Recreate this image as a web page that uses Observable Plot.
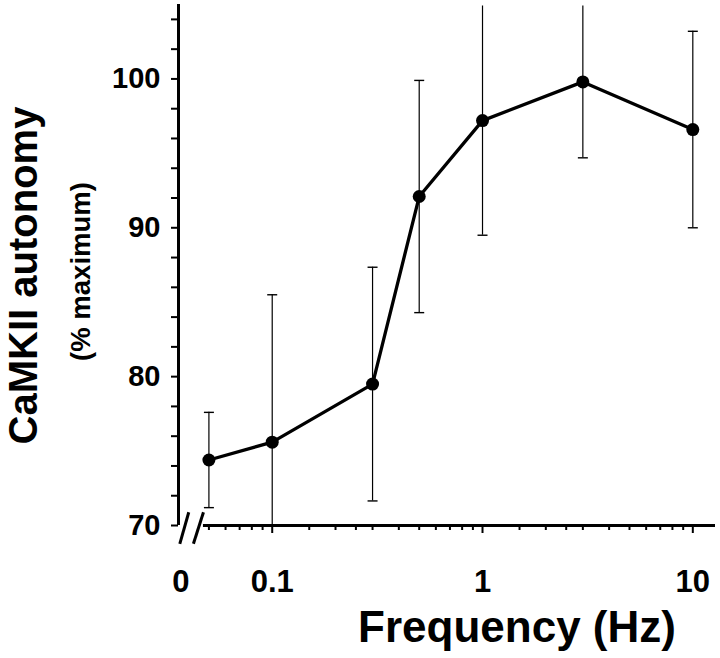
<!DOCTYPE html>
<html>
<head>
<meta charset="utf-8">
<script src="https://cdn.jsdelivr.net/npm/d3@7"></script>
<script src="https://cdn.jsdelivr.net/npm/@observablehq/plot@0.6"></script>
<style>
  html, body { margin: 0; padding: 0; background: #fff; }
  #chart svg { display: block; font-family: "Liberation Sans", Arial, sans-serif; }
  #chart svg text { font-weight: bold; fill: #000; }
</style>
</head>
<body>
<div id="chart"></div>
<script>
// ---- data ----
const frequencies = [0.05, 0.1, 0.3, 0.5, 1, 3, 10];          // Hz
const autonomy    = [74.4, 75.6, 79.5, 92.1, 97.2, 99.8, 96.6]; // % maximum
const errors      = [3.2, 9.9, 7.85, 7.8, 7.7, 5.1, 6.6];        // error bar half-lengths

const yTicks = d3.range(70, 105, 2);                 // 70..104
const yTickLabels = [70, 80, 90, 100];
const xMajorTicks = [0.1, 1, 10];
const xMinorTicks = [0.05, 0.06, 0.07, 0.08, 0.09,
                     0.15, 0.2, 0.25, 0.3, 0.4, 0.5, 0.6, 0.7, 0.8, 0.9,
                     1.5, 2, 2.5, 3, 4, 5, 6, 7, 8, 9];
const xLabelValues = [0.0368, 0.1, 1, 10];           // first one is the "0" at the axis break
const xLabelTexts  = ["0", "0.1", "1", "10"];

const xDomain = [0.03584, 12.82];
const yDomain = [70, 105];
const axisStart = 0.0471;                            // x-axis resumes after the break
const breakSlashes = [
  {x1: 0.03635, y1: 68.77, x2: 0.0401, y2: 70.89},
  {x1: 0.0422,  y1: 68.77, x2: 0.0471, y2: 70.89}
];

const rows = frequencies.map((f, i) => ({
  f, m: autonomy[i], lo: autonomy[i] - errors[i], hi: autonomy[i] + errors[i]
}));

const cap = { draw(ctx) { ctx.moveTo(-5, 0); ctx.lineTo(5, 0); } };

const plot = Plot.plot({
  width: 720,
  height: 658,
  marginLeft: 178,
  marginRight: 5,
  marginTop: 4,
  marginBottom: 133,
  x: {type: "log", domain: xDomain},
  y: {domain: yDomain},
  marks: [
    // axis lines
    Plot.ruleX([xDomain[0]], {x: d => d, y1: yDomain[0], y2: yDomain[1], strokeWidth: 3}),
    Plot.ruleY([yDomain[0]], {y: d => d, x1: axisStart, x2: xDomain[1], strokeWidth: 3}),
    Plot.link(breakSlashes, {x1: "x1", y1: "y1", x2: "x2", y2: "y2", strokeWidth: 3, stroke: "black"}),
    // y axis ticks + labels
    Plot.axisY({ticks: yTicks, tickSize: 7, tickPadding: 11, strokeWidth: 2,
      tickFormat: d => yTickLabels.includes(d) ? String(d) : "", fontSize: 29, label: null}),
    // x axis ticks
    Plot.axisX({ticks: xMinorTicks, tickSize: 5, strokeWidth: 2, tickFormat: () => "", label: null}),
    Plot.axisX({ticks: xMajorTicks, tickSize: 8, strokeWidth: 2, tickFormat: () => "", label: null}),
    Plot.text(xLabelValues, {x: d => d, text: (d, i) => xLabelTexts[i], frameAnchor: "bottom",
      textAnchor: "middle", lineAnchor: "middle", dy: 57, fontSize: 31}),
    // error bars
    Plot.ruleX(rows, {x: "f", y1: d => Math.max(d.lo, yDomain[0]), y2: d => Math.min(d.hi, yDomain[1] - 0.1), strokeWidth: 1.2}),
    Plot.dot(rows.filter(d => d.lo >= yDomain[0]), {x: "f", y: "lo", symbol: cap, stroke: "black", fill: "none", strokeWidth: 1.4, r: 5}),
    Plot.dot(rows.filter(d => d.hi <= yDomain[1] - 0.5), {x: "f", y: "hi", symbol: cap, stroke: "black", fill: "none", strokeWidth: 1.4, r: 5}),
    // data line + points
    Plot.line(rows, {x: "f", y: "m", strokeWidth: 3.3, stroke: "black"}),
    Plot.dot(rows, {x: "f", y: "m", r: 6.5, fill: "black", stroke: "none"}),
    // axis titles
    Plot.text(["CaMKII autonomy"], {text: d => d, frameAnchor: "left", textAnchor: "middle", lineAnchor: "middle",
      rotate: -90, dx: -154, dy: 10.5, fontSize: 40}),
    Plot.text(["(% maximum)"], {text: d => d, frameAnchor: "left", textAnchor: "middle", lineAnchor: "middle",
      rotate: -90, dx: -97, dy: 6.5, fontSize: 27.5}),
    Plot.text(["Frequency (Hz)"], {text: d => d, frameAnchor: "bottom", textAnchor: "middle", lineAnchor: "middle",
      dx: 70, dy: 102, fontSize: 44})
  ]
});
document.getElementById("chart").appendChild(plot);
</script>
</body>
</html>
